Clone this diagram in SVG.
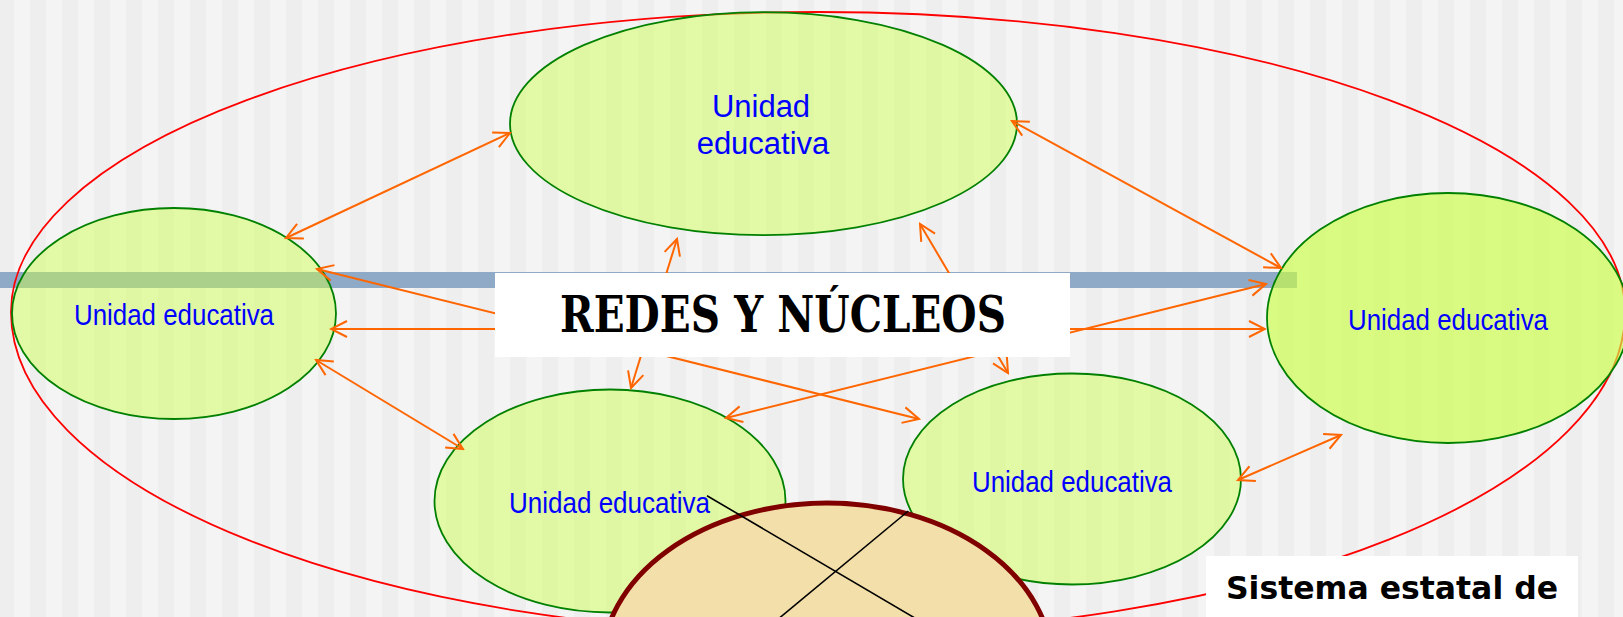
<svg xmlns="http://www.w3.org/2000/svg" width="1623" height="617" viewBox="0 0 1623 617">
<style>
.ue{fill:#ccff44;fill-opacity:0.45;stroke:#008000;stroke-width:1.8}
.ue2{fill:#ccff44;fill-opacity:0.65;stroke:#008000;stroke-width:1.8}
.lbl{font-family:"Liberation Sans",Arial,sans-serif;fill:#0000ff}
.arr{stroke:#ff6600;stroke-width:2;fill:none;marker-start:url(#ah);marker-end:url(#ah)}
.blk{stroke:#000;stroke-width:1.6;fill:none}
</style>
<defs>
<pattern id="stripes" x="-2" y="0" width="32" height="617" patternUnits="userSpaceOnUse">
<rect width="16" height="617" fill="#eeeeee"/><rect x="16" width="16" height="617" fill="#f4f4f4"/>
</pattern>
<marker id="ah" viewBox="0 0 20 20" refX="18" refY="10" markerWidth="20" markerHeight="20" markerUnits="userSpaceOnUse" orient="auto-start-reverse">
<path d="M2,2 L18,10 L2,18" fill="none" stroke="#ff6600" stroke-width="2"/>
</marker>
</defs>
<rect width="1623" height="617" fill="url(#stripes)"/>
<rect x="0" y="272" width="1297" height="16" fill="#8eaac6"/>
<path d="M11,312 A807,300 0 0 1 1625,312 A807,322 0 0 1 11,312 Z" fill="none" stroke="#ff0000" stroke-width="1.8"/>
<g id="ue-top"><ellipse class="ue" cx="763.5" cy="123.7" rx="253.5" ry="111.5"/>
<text class="lbl" x="761" y="116.7" font-size="31" text-anchor="middle">Unidad</text>
<text class="lbl" x="763" y="154" font-size="31" text-anchor="middle">educativa</text></g>
<g id="ue-left"><ellipse class="ue" cx="174" cy="313.5" rx="162" ry="105.5"/>
<text class="lbl" x="74" y="325" font-size="30" textLength="200" lengthAdjust="spacingAndGlyphs">Unidad educativa</text></g>
<g id="ue-right"><ellipse class="ue2" cx="1448" cy="318" rx="181" ry="125"/>
<text class="lbl" x="1348" y="330" font-size="30" textLength="200" lengthAdjust="spacingAndGlyphs">Unidad educativa</text></g>
<g id="ue-botleft"><ellipse class="ue" cx="610" cy="501" rx="175.5" ry="111.5"/>
<text class="lbl" x="509" y="512.5" font-size="30" textLength="201" lengthAdjust="spacingAndGlyphs">Unidad educativa</text></g>
<g id="ue-botright"><ellipse class="ue" cx="1072" cy="479" rx="169" ry="105.5"/>
<text class="lbl" x="972" y="491.7" font-size="30" textLength="200" lengthAdjust="spacingAndGlyphs">Unidad educativa</text></g>
<g id="connectors">
<line class="arr" x1="286" y1="238" x2="510" y2="133"/>
<line class="arr" x1="1012" y1="121" x2="1281" y2="268"/>
<line class="arr" x1="317" y1="269" x2="919" y2="419"/>
<line class="arr" x1="331" y1="329" x2="1265" y2="329"/>
<line class="arr" x1="726" y1="418" x2="1266" y2="284"/>
<line class="arr" x1="316" y1="360" x2="463" y2="449"/>
<line class="arr" x1="1238" y1="480" x2="1341" y2="435"/>
<line class="arr" x1="677" y1="239" x2="631" y2="388"/>
<line class="arr" x1="920" y1="224" x2="1008" y2="373"/>
</g>
<g id="title"><rect x="495" y="273" width="575" height="84" fill="#ffffff"/>
<text x="783" y="332.3" font-family="'DejaVu Serif','Liberation Serif',serif" font-weight="bold" font-size="51" text-anchor="middle" textLength="446" lengthAdjust="spacingAndGlyphs">REDES Y NÚCLEOS</text></g>
<g id="sistema"><ellipse cx="827" cy="665" rx="225" ry="162" fill="#f3dfa9" stroke="#800000" stroke-width="5"/>
<line class="blk" x1="707" y1="495.7" x2="925" y2="624"/>
<line class="blk" x1="908.3" y1="511" x2="771" y2="625"/></g>
<g id="sistema-estatal"><rect x="1206" y="556" width="372" height="70" fill="#ffffff"/>
<text x="1392" y="599" font-family="'DejaVu Sans',Verdana,sans-serif" font-weight="bold" font-size="31.5" text-anchor="middle">Sistema estatal de</text></g>
</svg>
